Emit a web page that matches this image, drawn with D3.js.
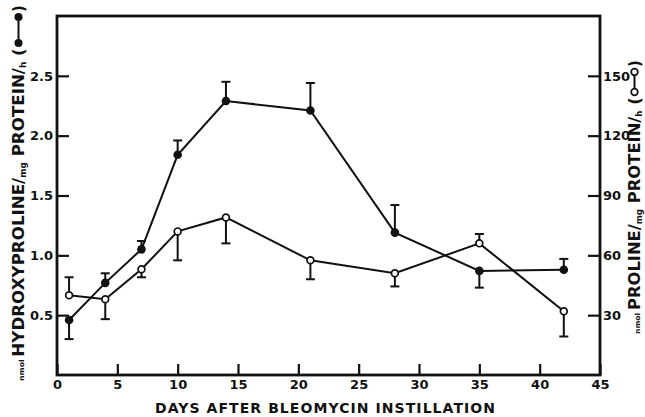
<!DOCTYPE html>
<html>
<head>
<meta charset="utf-8">
<script src="https://cdn.jsdelivr.net/npm/d3@7"></script>
<style>
body { margin: 0; background: #fff; }
text { font-family: "DejaVu Sans", sans-serif; font-weight: bold; fill: #111; }
</style>
</head>
<body>
<div class="chart"></div>
<script>
// days after instillation
var days = [1, 4, 7, 10, 14, 21, 28, 35, 42];
// hydroxyproline (left axis), nmol/mg protein/h; error: + drawn up, - drawn down
var hydroxyproline = [0.46, 0.77, 1.05, 1.84, 2.29, 2.21, 1.19, 0.87, 0.88];
var hydroxyErr = [-0.16, 0.08, 0.07, 0.12, 0.16, 0.23, 0.23, -0.14, 0.09];
// proline (right axis), nmol/mg protein/h
var proline = [40, 38, 53, 72, 79, 57.5, 51, 66, 32];
var prolineErr = [9, -10, -4, -14.5, -13, -9.5, -6.6, 4.7, -12.7];

var xTicks = [0, 5, 10, 15, 20, 25, 30, 35, 40, 45];
var leftTicks = [0.5, 1.0, 1.5, 2.0, 2.5];
var rightTicks = [30, 60, 90, 120, 150];

var width = 645, height = 417;
var plot = {left: 57, right: 600, top: 16, bottom: 375};

var x = d3.scaleLinear().domain([0, 45]).range([plot.left, plot.right]);
var yL = d3.scaleLinear().domain([0, 3]).range([plot.bottom, plot.top]);
var yR = d3.scaleLinear().domain([0, 180]).range([plot.bottom, plot.top]);

var svg = d3.select(".chart")
    .append("svg")
    .attr("width", width)
    .attr("height", height);

// axes, ticks pointing inward
var xAxis = d3.axisBottom(x).tickValues(xTicks).tickFormat(d3.format("d"))
    .tickSizeInner(-11).tickSizeOuter(0).tickPadding(5);
var leftAxis = d3.axisLeft(yL).tickValues(leftTicks).tickFormat(d3.format(".1f"))
    .tickSizeInner(-12).tickSizeOuter(0).tickPadding(4);
var rightAxis = d3.axisRight(yR).tickValues(rightTicks).tickFormat(d3.format("d"))
    .tickSizeInner(-12).tickSizeOuter(0).tickPadding(3);

function styleAxis(g) {
    g.select(".domain").remove();
    g.selectAll(".tick line").attr("stroke", "#111").attr("stroke-width", 2.2);
    g.selectAll(".tick text").style("font-size", "13px").attr("fill", "#111")
        .style("font-family", "'DejaVu Sans', sans-serif").style("font-weight", "bold");
}

svg.append("g").attr("transform", "translate(0," + plot.bottom + ")").call(xAxis).call(styleAxis);
svg.append("g").attr("transform", "translate(" + plot.left + ",0)").call(leftAxis).call(styleAxis);
svg.append("g").attr("transform", "translate(" + plot.right + ",0)").call(rightAxis).call(styleAxis);

// frame
svg.append("rect")
    .attr("x", plot.left).attr("y", plot.top)
    .attr("width", plot.right - plot.left).attr("height", plot.bottom - plot.top)
    .attr("fill", "none").attr("stroke", "#111").attr("stroke-width", 2.8);

function drawSeries(vals, errs, y, filled) {
    var pts = days.map(function(d, i) { return {d: d, v: vals[i], e: errs[i]}; });
    var line = d3.line().x(function(p) { return x(p.d); }).y(function(p) { return y(p.v); });
    svg.append("path").attr("d", line(pts))
        .attr("fill", "none").attr("stroke", "#111").attr("stroke-width", 2);

    var eb = svg.append("g").attr("stroke", "#111").attr("stroke-width", 2);
    pts.forEach(function(p) {
        var cx = x(p.d), y1 = y(p.v), y2 = y(p.v + p.e);
        eb.append("line").attr("x1", cx).attr("x2", cx).attr("y1", y1).attr("y2", y2);
        eb.append("line").attr("x1", cx - 4.5).attr("x2", cx + 4.5).attr("y1", y2).attr("y2", y2);
    });

    svg.append("g").selectAll("circle").data(pts).enter().append("circle")
        .attr("cx", function(p) { return x(p.d); })
        .attr("cy", function(p) { return y(p.v); })
        .attr("r", filled ? 4.3 : 3.4)
        .attr("fill", filled ? "#111" : "#fff")
        .attr("stroke", "#111").attr("stroke-width", filled ? 0 : 1.7);
}

drawSeries(proline, prolineErr, yR, false);
drawSeries(hydroxyproline, hydroxyErr, yL, true);

// x title
svg.append("text")
    .attr("x", 325).attr("y", 413)
    .attr("text-anchor", "middle")
    .attr("textLength", 340)
    .style("font-size", "14px")
    .text("DAYS AFTER BLEOMYCIN INSTILLATION");

// rotated titles with legend glyph; fitLen = length of text up to "("
function drawTitle(cx, by, name, filled, fitLen, glyphLen) {
    var g = svg.append("g").attr("transform", "translate(" + cx + "," + by + ") rotate(-90)");
    var t = g.append("text").style("font-size", "15px");
    t.append("tspan").text("nmol ").style("font-size", "7px");
    t.append("tspan").text(name + "/");
    t.append("tspan").text("mg").style("font-size", "8px").attr("dy", 2);
    t.append("tspan").text(" PROTEIN/").attr("dy", -2);
    t.append("tspan").text("h").style("font-size", "8px").attr("dy", 2);
    t.append("tspan").text(" (").attr("dy", -2);
    var len = t.node().getComputedTextLength();
    t.attr("transform", "scale(" + (fitLen / len) + ",1)");
    var gy = -5.5, a = fitLen + 5, b = a + glyphLen;
    g.append("line").attr("x1", a).attr("x2", b).attr("y1", gy).attr("y2", gy)
        .attr("stroke", "#111").attr("stroke-width", 2);
    [a, b].forEach(function(px) {
        g.append("circle").attr("cx", px).attr("cy", gy).attr("r", filled ? 4 : 3.3)
            .attr("fill", filled ? "#111" : "#fff")
            .attr("stroke", "#111").attr("stroke-width", filled ? 0 : 1.7);
    });
    g.append("text").attr("x", b + 5).style("font-size", "15px").text(")");
}

drawTitle(24, 381, "HYDROXYPROLINE", true, 333, 26);
drawTitle(640, 334, "PROLINE", false, 237, 20);
</script>
</body>
</html>
